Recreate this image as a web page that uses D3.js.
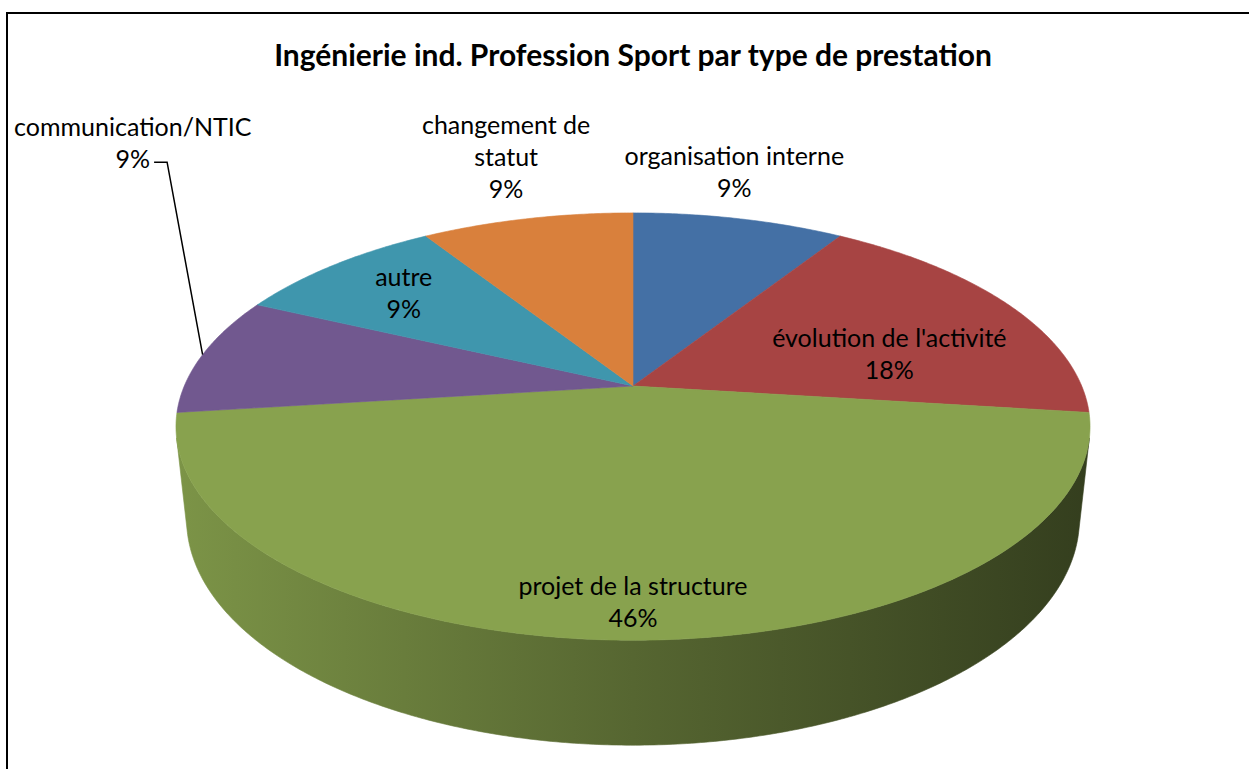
<!DOCTYPE html>
<html>
<head>
<meta charset="utf-8">
<script src="https://cdn.jsdelivr.net/npm/d3@7"></script>
<style>
  body { margin: 0; background: #fff; }
  text { font-family: Lato, "Open Sans", sans-serif; fill: #000; }
</style>
</head>
<body>
<div id="chart"></div>
<script>
// data
var title = "Ingénierie ind. Profession Sport par type de prestation";
var categories = ["organisation interne", "évolution de l'activité", "projet de la structure",
                  "communication/NTIC", "autre", "changement de statut"];
var shares = [9, 18, 46, 9, 9, 9];
var colors = ["#4470A5", "#A74443", "#88A24E", "#71588F", "#3F96AD", "#D9803C"];

// label layout (radius in pie units, turn in degrees from slice middle)
var labelR    = [1.32, 0.61, 0.875, 2.09, 0.745, 1.45];
var labelTurn = [-3.9, 10, 0, 37.6, 0, 1.9];
var labelWrap = {"changement de statut": ["changement de", "statut"]};
var leader    = [false, false, false, true, false, false];

var W = 1249, H = 769;

var svg = d3.select("#chart")
  .append("svg")
    .attr("width", W)
    .attr("height", H);

// frame (runs off the right and bottom edges)
svg.append("rect")
  .attr("x", 7).attr("y", 13)
  .attr("width", 1400).attr("height", 900)
  .attr("fill", "none")
  .attr("stroke", "#000")
  .attr("stroke-width", 2);

// title, fitted to the reference width
var t = svg.append("text")
  .attr("x", 633).attr("y", 66)
  .attr("text-anchor", "middle")
  .style("font-weight", "bold")
  .style("font-size", "24px")
  .text(title);
t.style("font-size", (24 * 718 / t.node().getComputedTextLength()) + "px");

// simple perspective camera for the 3D pie
var cx = 633, cy = 386, f = 2100, dist = 4.68, depth = 0.234;
var tilt = Math.asin(0.459), sn = Math.sin(tilt), cs = Math.cos(tilt);

function project(X, Y, Z) {
  var vy = Y - dist * sn, vz = Z - dist * cs;
  var yc = vy * cs - vz * sn;
  var zc = -(vy * sn + vz * cs);
  return [cx + f * X / zc, cy - f * yc / zc];
}
function rim(a, r, Y) {
  return project(r * Math.sin(a), Y, -r * Math.cos(a));
}

var pie = d3.pie().sort(null).value(function(d) { return d; });
var arcs = pie(shares);

function arcPoints(a0, a1, r, Y) {
  var n = Math.max(2, Math.ceil((a1 - a0) / (Math.PI / 360)));
  return d3.range(n + 1).map(function(i) { return rim(a0 + (a1 - a0) * i / n, r, Y); });
}
var line = d3.line();

// side gradients
var defs = svg.append("defs");
var xl = rim(-Math.PI / 2, 1.02, 0)[0], xr = rim(Math.PI / 2, 1.02, 0)[0];
colors.forEach(function(c, i) {
  var g = defs.append("linearGradient")
    .attr("id", "side" + i)
    .attr("gradientUnits", "userSpaceOnUse")
    .attr("x1", xl).attr("x2", xr).attr("y1", 0).attr("y2", 0);
  [[0, 0.25], [0.5, 1.3], [1, 2.7]].forEach(function(s) {
    g.append("stop").attr("offset", s[0]).attr("stop-color", d3.color(c).darker(s[1]));
  });
});

// visible outer wall: cos(a) < -1 / (dist * cos(tilt))
var aVis = Math.acos(-1 / (dist * cs));
var vis0 = aVis, vis1 = 2 * Math.PI - aVis;

var sides = svg.append("g");
arcs.forEach(function(d, i) {
  var a0 = Math.max(d.startAngle, vis0), a1 = Math.min(d.endAngle, vis1);
  if (a1 <= a0) return;
  var pts = arcPoints(a0, a1, 1, 0).concat(arcPoints(a0, a1, 1, -depth).reverse());
  sides.append("path")
    .attr("d", line(pts) + "Z")
    .attr("fill", "url(#side" + i + ")")
    .attr("stroke", "url(#side" + i + ")")
    .attr("stroke-width", 0.6);
});

// top faces
var tops = svg.append("g");
arcs.forEach(function(d, i) {
  var pts = [project(0, 0, 0)].concat(arcPoints(d.startAngle, d.endAngle, 1, 0));
  tops.append("path")
    .attr("d", line(pts) + "Z")
    .attr("fill", colors[i])
    .attr("stroke", colors[i])
    .attr("stroke-width", 0.6);
});

// data labels
var fs = 25, lh = 32;
var labels = svg.append("g").style("font-size", fs + "px");
arcs.forEach(function(d, i) {
  var mid = (d.startAngle + d.endAngle) / 2;
  var p = rim(mid + labelTurn[i] * Math.PI / 180, labelR[i], 0);
  var lines = (labelWrap[categories[i]] || [categories[i]]).concat([d.value + "%"]);
  var y0 = p[1] - (lines.length - 1) * lh / 2;
  var last;
  lines.forEach(function(s, k) {
    last = labels.append("text")
      .attr("x", p[0])
      .attr("y", y0 + k * lh)
      .attr("dy", "0.35em")
      .attr("text-anchor", "middle")
      .text(s);
  });
  if (leader[i]) {
    var w = last.node().getComputedTextLength();
    var sx = p[0] + w / 2 + 4, sy = y0 + (lines.length - 1) * lh + 3;
    var end = rim(mid, 1, 0);
    svg.append("path")
      .attr("d", line([[sx, sy], [sx + 13, sy], end]))
      .attr("fill", "none")
      .attr("stroke", "#000")
      .attr("stroke-width", 1.5);
  }
});
</script>
</body>
</html>
